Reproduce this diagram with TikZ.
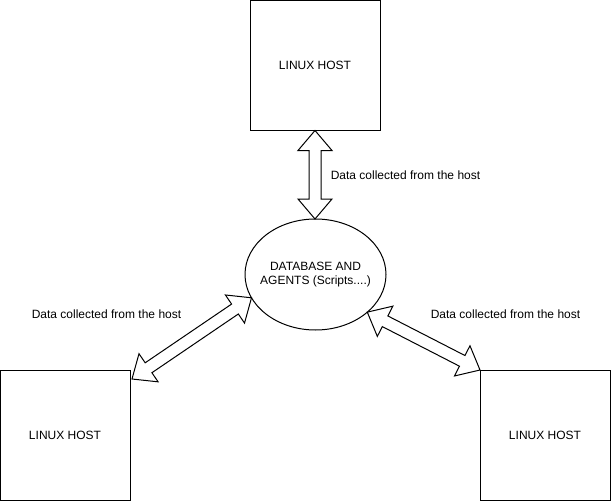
\documentclass[tikz,border=0pt]{standalone}
\usepackage{fontspec}
\setmainfont{Liberation Sans}
\usetikzlibrary{shapes.geometric,calc}
\tikzset{
  host/.style={draw, line width=1pt, minimum width=130pt, minimum height=130pt,
    inner sep=0pt, outer sep=0pt, font=\fontsize{12}{14}\selectfont},
  store/.style={draw, ellipse, line width=1pt, minimum width=141pt, minimum height=111pt,
    inner xsep=-6pt, inner ysep=0pt, outer sep=0pt, align=center,
    font=\fontsize{12}{14.5}\selectfont},
  note/.style={inner sep=0pt, font=\fontsize{12}{14}\selectfont},
  fatarrow/.style={draw, fill=white, line width=1pt, line join=miter}
}
% hollow double-headed arrow between two named coordinates
\newcommand\fatlink[2]{%
  \coordinate (ha) at ($(#1)!20pt!(#2)$);
  \coordinate (hb) at ($(#2)!20pt!(#1)$);
  \draw[fatarrow] (#1) -- ($(ha)!17pt!90:(#2)$) -- ($(ha)!6pt!90:(#2)$)
    -- ($(hb)!6pt!-90:(#1)$) -- ($(hb)!17pt!-90:(#1)$) -- (#2)
    -- ($(hb)!17pt!90:(#1)$) -- ($(hb)!6pt!90:(#1)$)
    -- ($(ha)!6pt!-90:(#2)$) -- ($(ha)!17pt!-90:(#2)$) -- cycle;}
\begin{document}
\begin{tikzpicture}[x=1pt, y=-1pt]
  \useasboundingbox (0,0) rectangle (611,501);

  \node[host]  (top)  at (315,65.5) {LINUX HOST};
  \node[host]  (left) at (65,435)   {LINUX HOST};
  \node[host]  (right) at (545,435) {LINUX HOST};
  \node[store] (db)   at (315.5,274.5)  {DATABASE AND\\AGENTS (Scripts....)};

  \node[note] (ltop)   at (405.5,175) {Data collected from the host};
  \node[note] (lleft)  at (106.5,314) {Data collected from the host};
  \node[note] (lright) at (505.5,314) {Data collected from the host};

  % connector end points
  \coordinate (t1) at (top.south);
  \coordinate (t2) at (top.south |- db.north);
  \coordinate (l1) at ($(left.north east)+(2,9)$);
  \coordinate (l2) at (db.200);
  \coordinate (r1) at (db.324);
  \coordinate (r2) at (right.north west);

  \fatlink{t1}{t2}
  \fatlink{l1}{l2}
  \fatlink{r1}{r2}
\end{tikzpicture}
\end{document}
